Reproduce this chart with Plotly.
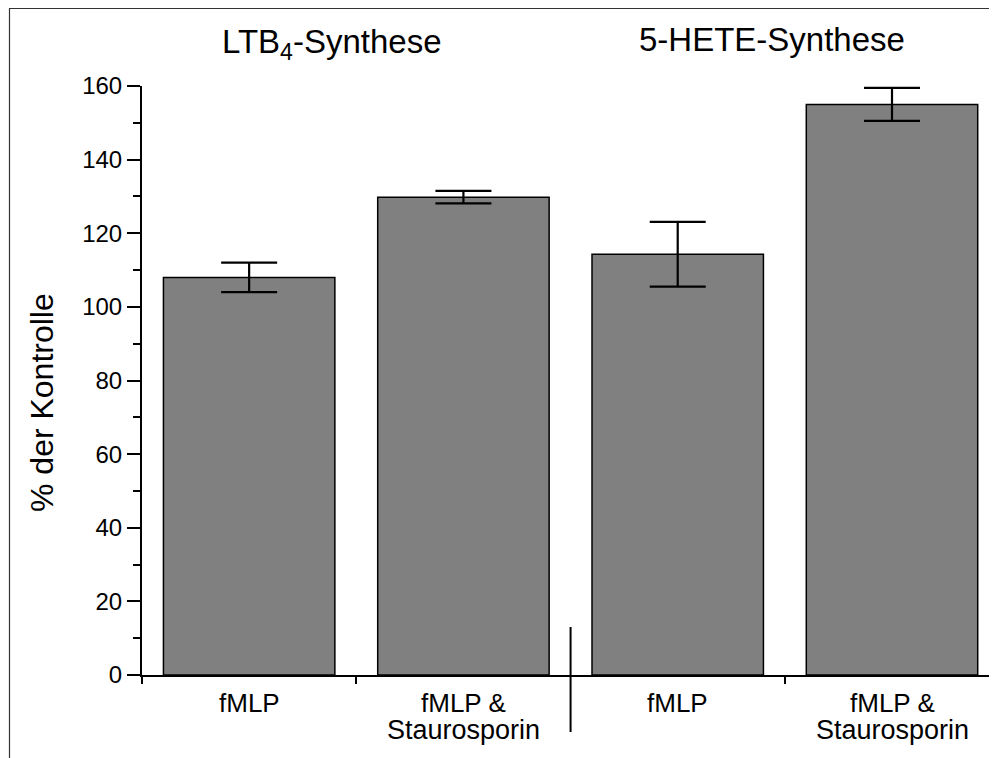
import plotly.graph_objects as go

# ---- data ----
positions = [0, 1, 2, 3]
line1_labels = ["fMLP", "fMLP &", "fMLP", "fMLP &"]
line2_labels = ["", "Staurosporin", "", "Staurosporin"]
values = [108.0, 129.8, 114.3, 155.0]
errors = [4.0, 1.7, 8.8, 4.5]
group_titles = ["LTB<sub>4</sub>-Synthese", "5-HETE-Synthese"]
y_ticks = [0, 20, 40, 60, 80, 100, 120, 140, 160]
y_label = "% der Kontrolle"

FONT = "Arial, Liberation Sans, sans-serif"
OFF = 8  # page body margin
W, H = 989, 750
L, R, T, B = 134, 0, 78, 83
XR = [-0.5, 3.49]
YR = [0, 160]
pw = W - L - R
ph = H - T - B


def px_x(p):  # screen pixel -> paper
    return (p - OFF - L) / pw


def px_y(p):
    return (H - B - (p - OFF)) / ph


fig = go.Figure()
fig.add_trace(go.Bar(
    x=positions, y=values, width=0.8,
    marker=dict(color="#808080", line=dict(color="black", width=1.5)),
    error_y=dict(type="data", array=errors, visible=True,
                 color="black", thickness=2.2, width=28),
    showlegend=False,
))

annotations = []
for xp, t1, t2 in zip(positions, line1_labels, line2_labels):
    annotations.append(dict(x=xp, xref="x", y=px_y(703), yref="paper",
                            text=t1, showarrow=False, xanchor="center",
                            yanchor="middle",
                            font=dict(size=26, family=FONT, color="black")))
    if t2:
        annotations.append(dict(x=xp, xref="x", y=px_y(730), yref="paper",
                                text=t2, showarrow=False, xanchor="center",
                                yanchor="middle",
                                font=dict(size=27, family=FONT, color="black")))

for title, cx, cy in zip(group_titles, [332, 772], [44, 40]):
    annotations.append(dict(x=px_x(cx), xref="paper", y=px_y(cy), yref="paper",
                            text=title, showarrow=False, xanchor="center",
                            yanchor="middle",
                            font=dict(size=33, family=FONT, color="black")))

annotations.append(dict(x=px_x(42), xref="paper", y=px_y(403), yref="paper",
                        text=y_label, showarrow=False, textangle=-90,
                        xanchor="center", yanchor="middle",
                        font=dict(size=32, family=FONT, color="black")))

sep_x = (1.5 - XR[0]) / (XR[1] - XR[0])
shapes = [
    # group separator
    dict(type="line", xref="x domain", yref="paper",
         x0=sep_x, x1=sep_x, y0=px_y(732), y1=px_y(627),
         line=dict(color="black", width=2)),
    # outer frame
    dict(type="rect", xref="paper", yref="paper",
         x0=px_x(9.5), x1=px_x(1100), y0=px_y(900), y1=px_y(8.5),
         line=dict(color="#333333", width=1.2)),
]

fig.update_layout(
    width=W, height=H,
    margin=dict(l=L, r=R, t=T, b=B, pad=0),
    paper_bgcolor="white", plot_bgcolor="white",
    font=dict(family=FONT, color="black"),
    annotations=annotations, shapes=shapes,
)
fig.update_xaxes(
    range=XR, showgrid=False, zeroline=False,
    showline=True, linecolor="black", linewidth=2,
    ticks="outside", tickvals=[-0.5, 0.5, 2.5, 3.5], ticklen=7,
    tickwidth=2, tickcolor="black", showticklabels=False,
)
fig.update_yaxes(
    range=YR, showgrid=False, zeroline=False,
    showline=True, linecolor="black", linewidth=2,
    ticks="outside", tickvals=y_ticks, ticklen=13, tickwidth=2,
    tickcolor="black", tickfont=dict(size=24, family=FONT, color="black"),
    minor=dict(tickvals=[10, 30, 50, 70, 90, 110, 130, 150], ticklen=7,
               tickwidth=2, tickcolor="black", ticks="outside"),
)

fig.write_html("out.html")
